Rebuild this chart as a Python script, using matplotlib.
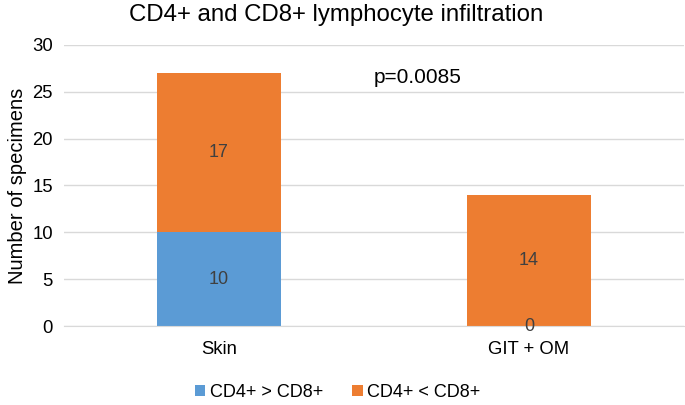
import numpy as np
import matplotlib.pyplot as plt

plt.rcParams['font.family'] = ['Liberation Sans', 'DejaVu Sans']

# ---------- Data ----------
categories = ["Skin", "GIT + OM"]
cd4_gt_cd8 = [10, 0]
cd4_lt_cd8 = [17, 14]
series_names = ["CD4+ > CD8+", "CD4+ < CD8+"]

blue = "#5B9BD5"
orange = "#ED7D31"
label_color = "#404040"

# ---------- Figure ----------
fig = plt.figure(figsize=(6.85, 4.05), dpi=100)
ax = fig.add_axes([0.0934, 0.195, 0.905, 0.694])

x = np.arange(len(categories))
width = 0.4

b1 = ax.bar(x, cd4_gt_cd8, width, color=blue, label=series_names[0], zorder=2)
b2 = ax.bar(x, cd4_lt_cd8, width, bottom=cd4_gt_cd8, color=orange,
            label=series_names[1], zorder=2)

ax.bar_label(b1, labels=[str(v) for v in cd4_gt_cd8], label_type="center",
             color=label_color, fontsize=13)
ax.bar_label(b2, labels=[str(v) for v in cd4_lt_cd8], label_type="center",
             color=label_color, fontsize=13)

ax.set_xlim(-0.5, len(categories) - 0.5)
ax.set_ylim(0, 30)
ax.set_yticks(range(0, 31, 5))
ax.set_xticks(x)
ax.set_xticklabels(categories)
ax.tick_params(axis="both", length=0, labelsize=13.3, colors="black")
ax.tick_params(axis="x", pad=11)
ax.tick_params(axis="y", pad=8)

ax.grid(axis="y", color="#D9D9D9", linewidth=1, zorder=0)
for s in ["top", "right", "left"]:
    ax.spines[s].set_visible(False)
ax.spines["bottom"].set_color("#D9D9D9")

ax.set_ylabel("Number of specimens", fontsize=14.5, labelpad=4)
ax.text(0.64, 26.5, "p=0.0085", fontsize=15, ha="center", va="center")

fig.suptitle("CD4+ and CD8+ lymphocyte infiltration", fontsize=17.3, x=0.49, y=0.99)

fig.legend(loc="lower center", ncol=2, frameon=False, fontsize=13,
           bbox_to_anchor=(0.493, -0.03), handlelength=0.6, handleheight=0.6,
           columnspacing=1.6, handletextpad=0.25)

fig.savefig("out.png", dpi=100)
